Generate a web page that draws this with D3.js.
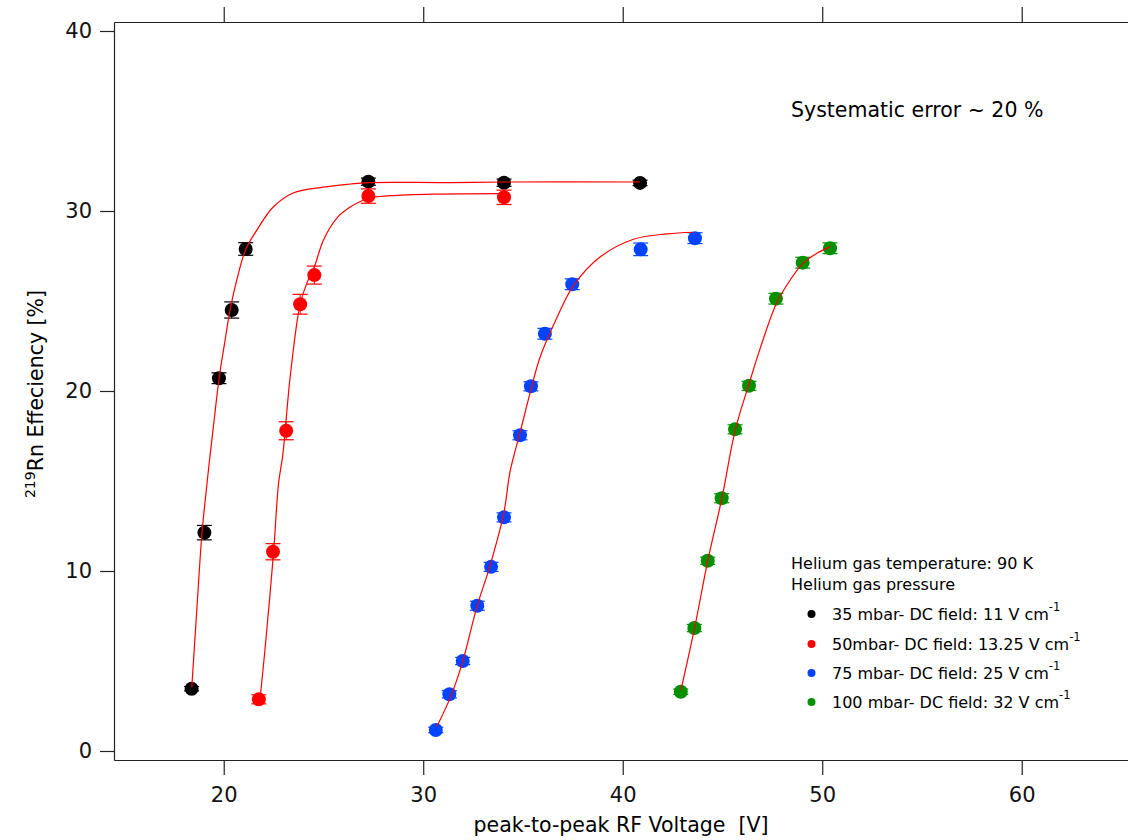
<!DOCTYPE html>
<html>
<head>
<meta charset="utf-8">
<script src="https://cdn.jsdelivr.net/npm/d3@7"></script>
<style>
  body { margin: 0; background: #fff; }
  svg { display: block; font-family: "DejaVu Sans", sans-serif; }
</style>
</head>
<body>
<svg id="chart" width="1128" height="840"></svg>
<script>
// Measured points: RF voltage [V], efficiency [%], error [%]
const volt35 = [18.39, 19.03, 19.76, 20.40, 21.10, 27.25, 34.05, 40.87];
const eff35  = [3.46, 12.13, 20.71, 24.50, 27.89, 31.63, 31.57, 31.56];
const err35  = [0.12, 0.40, 0.30, 0.45, 0.35, 0.20, 0.20, 0.15];

const volt50 = [21.76, 22.47, 23.13, 23.83, 24.54, 27.25, 34.05];
const eff50  = [2.87, 11.07, 17.79, 24.82, 26.44, 30.83, 30.76];
const err50  = [0.25, 0.45, 0.50, 0.55, 0.50, 0.40, 0.40];

const volt75 = [30.63, 31.31, 31.98, 32.71, 33.40, 34.05, 34.85, 35.40, 36.10, 37.47, 40.90, 43.62];
const eff75  = [1.17, 3.15, 5.00, 8.07, 10.23, 12.98, 17.54, 20.26, 23.18, 25.93, 27.87, 28.49];
const err75  = [0.15, 0.20, 0.20, 0.25, 0.25, 0.25, 0.25, 0.25, 0.30, 0.30, 0.35, 0.30];

const volt100 = [42.91, 43.59, 44.26, 44.96, 45.63, 46.33, 47.68, 49.02, 50.39];
const eff100  = [3.29, 6.83, 10.57, 14.04, 17.87, 20.29, 25.13, 27.13, 27.93];
const err100  = [0.15, 0.20, 0.20, 0.25, 0.25, 0.25, 0.30, 0.30, 0.30];

// Fit curves
const fit35V = [18.40, 18.65, 18.91, 19.10, 19.29, 19.52, 19.77, 20.03, 20.33, 20.68, 21.11, 21.66, 22.48, 23.48, 24.99, 26.34, 27.24, 31.35, 34.06, 40.88];
const fit35E = [3.56, 7.83, 12.11, 14.22, 16.17, 18.39, 20.72, 22.56, 24.56, 26.28, 27.89, 28.94, 30.22, 31.00, 31.33, 31.50, 31.58, 31.58, 31.61, 31.61];

const fit50V = [21.83, 22.08, 22.50, 22.75, 22.96, 23.33, 23.83, 24.17, 24.54, 25.00, 25.67, 26.34, 27.26, 28.35, 30.50, 34.06];
const fit50E = [3.00, 5.78, 11.06, 14.89, 16.44, 20.78, 24.83, 26.00, 26.89, 28.39, 29.61, 30.22, 30.71, 30.85, 30.94, 30.97];

const fit75V = [30.69, 31.35, 31.94, 32.69, 33.32, 34.03, 34.36, 34.86, 35.36, 35.86, 36.70, 37.53, 38.86, 40.54, 42.22, 43.53];
const fit75E = [1.37, 2.95, 4.83, 8.01, 10.19, 13.17, 15.56, 17.72, 19.91, 21.89, 24.07, 25.85, 27.44, 28.43, 28.73, 28.82];

const fit100V = [42.92, 43.60, 44.27, 44.97, 45.64, 46.34, 46.89, 47.69, 48.23, 49.03, 49.73, 50.40];
const fit100E = [3.39, 6.82, 10.61, 14.04, 17.83, 20.43, 22.37, 24.83, 25.89, 27.09, 27.65, 28.02];

const xTicks = [20, 30, 40, 50, 60];
const yTicks = [0, 10, 20, 30, 40];

const seriesLabels = ["35 mbar- DC field: 11 V cm", "50mbar- DC field: 13.25 V cm",
                      "75 mbar- DC field: 25 V cm", "100 mbar- DC field: 32 V cm"];
const seriesColors = ["#000000", "#ff0000", "#0044ff", "#009000"];

const series = [
    { v: volt35, e: eff35, err: err35, fv: fit35V, fe: fit35E },
    { v: volt50, e: eff50, err: err50, fv: fit50V, fe: fit50E },
    { v: volt75, e: eff75, err: err75, fv: fit75V, fe: fit75E },
    { v: volt100, e: eff100, err: err100, fv: fit100V, fe: fit100E },
];

const svg = d3.select("#chart");
const plotLeft = 114, plotTop = 22, plotBottom = 760;

const x = d3.scaleLinear().domain([14.5, 65.5]).range([plotLeft, plotLeft + 51 * 19.95]);
const y = d3.scaleLinear().domain([-0.5, 40.5]).range([plotBottom, plotTop]);

const axisColor = "#222";

// Axes
const gx = svg.append("g").attr("transform", `translate(0,${plotBottom})`)
    .call(d3.axisBottom(x).tickValues(xTicks).tickSize(15).tickPadding(12).tickSizeOuter(0));
const gxTop = svg.append("g").attr("transform", `translate(0,${plotTop})`)
    .call(d3.axisTop(x).tickValues(xTicks).tickSize(15).tickFormat("").tickSizeOuter(0));
const gy = svg.append("g").attr("transform", `translate(${plotLeft},0)`)
    .call(d3.axisLeft(y).tickValues(yTicks).tickSize(14).tickPadding(8).tickSizeOuter(0));

[gx, gxTop, gy].forEach(g => {
    g.select(".domain").attr("stroke", axisColor).attr("stroke-width", 1.2);
    g.selectAll(".tick line").attr("stroke", axisColor).attr("stroke-width", 1.2);
    g.selectAll(".tick text").attr("fill", "#111").style("font-size", "21px")
        .style("font-family", '"DejaVu Sans", sans-serif');
});

// Axis titles
svg.append("text")
    .attr("x", 621).attr("y", 832)
    .attr("text-anchor", "middle")
    .style("font-size", "20.5px")
    .style("white-space", "pre")
    .text("peak-to-peak RF Voltage  [V]");

const yTitle = svg.append("text")
    .attr("transform", "translate(43,394) rotate(-90)")
    .attr("text-anchor", "middle")
    .style("font-size", "20.5px");
yTitle.append("tspan").style("font-size", "14px").attr("dy", -8).text("219");
yTitle.append("tspan").attr("dy", 8).text("Rn Effeciency [%]");

// Systematic error note
svg.append("text")
    .attr("x", 791).attr("y", 117)
    .style("font-size", "20.5px")
    .text("Systematic error ~ 20 %");

// Data: error bars, markers
series.forEach((s, i) => {
    const col = seriesColors[i];
    const g = svg.append("g");
    s.v.forEach((v, j) => {
        const cx = x(v), y1 = y(s.e[j] + s.err[j]), y0 = y(s.e[j] - s.err[j]);
        g.append("line").attr("x1", cx).attr("x2", cx).attr("y1", y1).attr("y2", y0)
            .attr("stroke", col).attr("stroke-width", 1);
        [y0, y1].forEach(yy => g.append("line")
            .attr("x1", cx - 7.5).attr("x2", cx + 7.5).attr("y1", yy).attr("y2", yy)
            .attr("stroke", col).attr("stroke-width", 1.2));
    });
    g.selectAll("circle").data(s.v).join("circle")
        .attr("cx", d => x(d))
        .attr("cy", (d, j) => y(s.e[j]))
        .attr("r", 7)
        .attr("fill", col);
});

// Fit curves
const line = d3.line().x(d => x(d[0])).y(d => y(d[1])).curve(d3.curveCatmullRom.alpha(0.5));
series.forEach(s => {
    svg.append("path")
        .datum(s.fv.map((v, j) => [v, s.fe[j]]))
        .attr("d", line)
        .attr("fill", "none")
        .attr("stroke", "#ff0000")
        .attr("stroke-width", 1.2);
});

// Legend
svg.append("text").attr("x", 791).attr("y", 569).style("font-size", "16px")
    .text("Helium gas temperature: 90 K");
svg.append("text").attr("x", 791).attr("y", 590).style("font-size", "16px")
    .text("Helium gas pressure");

const legendY = [614, 644, 673, 702];
seriesLabels.forEach((lab, i) => {
    svg.append("circle").attr("cx", 811.5).attr("cy", legendY[i]).attr("r", 4)
        .attr("fill", seriesColors[i]);
    const t = svg.append("text").attr("x", 832).attr("y", legendY[i] + 6)
        .style("font-size", "16px");
    t.append("tspan").text(lab);
    t.append("tspan").attr("dy", -9).style("font-size", "11.5px").text("-1");
});
</script>
</body>
</html>
